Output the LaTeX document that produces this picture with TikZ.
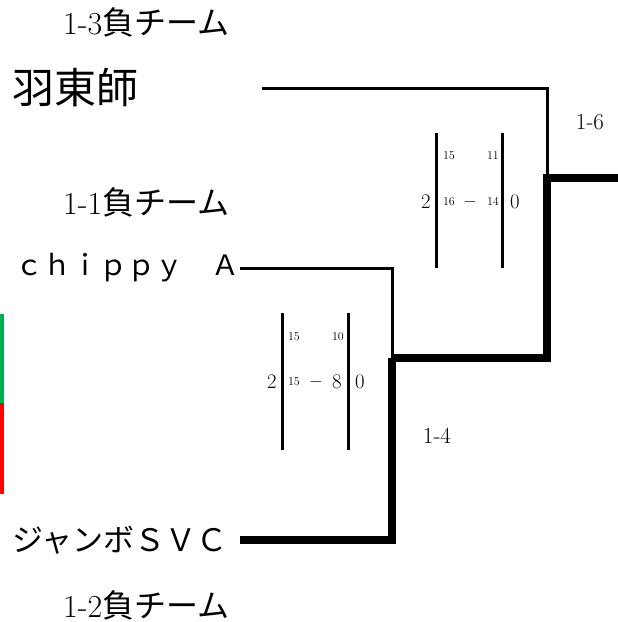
\documentclass[tikz,border=0pt]{standalone}
\usepackage{fontspec}
\newfontfamily\jp{Noto Sans CJK JP}
\usetikzlibrary{calc}
\definecolor{markgreen}{RGB}{0,176,80}
\definecolor{markred}{RGB}{255,0,0}

\begin{document}
\begin{tikzpicture}[x=1pt, y=-1pt,
    team/.style={anchor=west, inner sep=0pt, font=\fontsize{28}{30}\selectfont},
    lose/.style={anchor=west, inner sep=0pt, font=\fontsize{32}{34}\selectfont},
    thin/.style={line width=3pt},
    thick/.style={line width=8pt},
    score/.style={inner sep=0pt, font=\fontsize{22}{24}\selectfont},
    game/.style={inner sep=0pt, font=\fontsize{13}{14}\selectfont},
    dashsign/.style={inner sep=0pt, font=\fontsize{16}{18}\selectfont},
    round/.style={inner sep=0pt, font=\fontsize{23}{25}\selectfont}]
    \useasboundingbox (0,0) rectangle (618,622);

    % teams
    \node[lose] (L13) at (63,22) {1-3{\jp 負チーム}};
    \node[team, font=\fontsize{42}{44}\selectfont] (HA) at (12,88) {\jp 羽東師};
    \node[lose] (L11) at (63,202) {1-1{\jp 負チーム}};
    \node[team] (CH) at (15,268) {\jp ｃｈｉｐｐｙ　Ａ};
    \node[team, font=\fontsize{31}{33}\selectfont] (JU) at (12,540) {\jp ジャンボＳＶＣ};
    \node[lose] (L12) at (63,605) {1-2{\jp 負チーム}};

    % bracket
    \coordinate (HAs) at (262,88);
    \coordinate (CHs) at (240,268);
    \coordinate (JUs) at (240,540);
    \coordinate (M14) at (392,358);
    \coordinate (M16) at (547,178);
    \coordinate (WIN) at (618,178);

    \draw[thin] (HAs) -| (M16);
    \draw[thin] (CHs) -| (M14);
    \draw[thick] (JUs) -| (M14);
    \draw[thick] (M14) -| (M16) -- (WIN);

    \node[round] (R16) at (590,122) {1-6};
    \node[round] (R14) at (437,436) {1-4};

    % score 1-6
    \draw[thin] (436,133) -- (436,268);
    \draw[thin] (502,133) -- (502,268);
    \node[score] (A1) at (426,202) {$2$};
    \node[score] (A2) at (515,202) {$0$};
    \node[game] at (449,156) {$15$};
    \node[game] at (493,156) {$11$};
    \node[game] at (449,202) {$16$};
    \node[dashsign] at (470,202) {$-$};
    \node[game] at (493,202) {$14$};

    % score 1-4
    \draw[thin] (282,313) -- (282,450);
    \draw[thin] (348,313) -- (348,450);
    \node[score] (B1) at (272,382) {$2$};
    \node[score] (B2) at (360,382) {$0$};
    \node[game] at (294,337) {$15$};
    \node[game] at (338,337) {$10$};
    \node[game] at (294,382) {$15$};
    \node[dashsign] at (316,382) {$-$};
    \node[score] at (337,382) {$8$};

    % side marks
    \fill[markgreen] (0,314) rectangle (4,403);
    \fill[markred] (0,403) rectangle (4,494);
\end{tikzpicture}
\end{document}
